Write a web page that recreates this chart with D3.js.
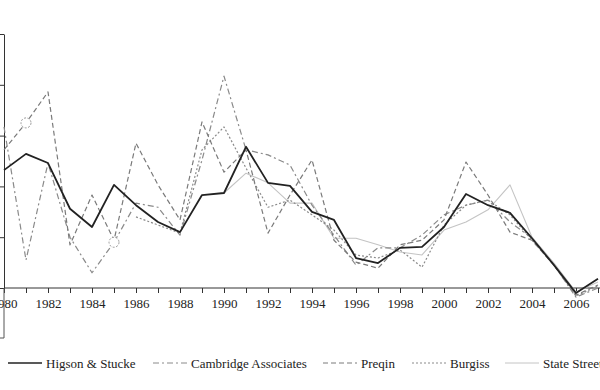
<!DOCTYPE html>
<html>
<head>
<meta charset="utf-8">
<script src="https://d3js.org/d3.v7.min.js"></script>
<style>
  body { margin: 0; background: #fff; }
  text { font-family: "Liberation Serif", "Times New Roman", serif; }
</style>
</head>
<body>
<script>
// vintage years and IRR-like values (%)
const years = d3.range(1980, 2008);

const higsonStucke = [23.2, 26.4, 24.6, 15.6, 12.0, 20.3, 16.3, 13.0, 11.0, 18.3, 18.7, 27.8, 20.7, 20.1,
  15.0, 13.4, 5.9, 4.9, 7.9, 8.1, 12.0, 18.5, 16.3, 14.8, 9.8, 4.5, -1.0, 1.8];
const cambridge = [31.7, 5.5, 24.6, 10.0, 3.0, 9.0, 16.7, 15.9, 10.4, 25.2, 41.7, 27.2, 26.2, 24.2,
  16.3, 10.4, 4.5, 7.9, 7.9, 10.4, 14.4, 16.3, 17.3, 13.0, 9.8, 4.5, -1.8, 0.0];
const preqin = [27.2, 32.5, 38.6, 8.5, 18.3, 9.4, 28.5, 20.3, 13.4, 32.7, 22.8, 27.2, 10.8, 18.3,
  25.2, 9.4, 5.1, 3.9, 8.5, 9.4, 13.4, 24.8, 18.3, 11.0, 9.4, 4.5, -1.4, 0.6];
// Burgiss starts in 1986
const burgiss = [null, null, null, null, null, null, 14.0, 12.4, 10.8, 27.2, 31.7, 23.6, 15.9, 17.3,
  14.4, 11.4, 6.5, 5.9, 7.5, 4.1, 12.4, 16.3, 17.3, 14.4, 9.4, 4.5, -1.6, 0.4];
// State Street starts in 1990
const stateStreet = [null, null, null, null, null, null, null, null, null, null, 18.7, 22.6, 20.7, 16.7,
  16.7, 9.8, 9.8, 8.5, 7.1, 6.5, 11.4, 13.0, 15.4, 20.3, 10.0, 4.9, -0.8, 1.2];

const seriesNames = ["Higson & Stucke", "Cambridge Associates", "Preqin", "Burgiss", "State Street"];
const seriesValues = [higsonStucke, cambridge, preqin, burgiss, stateStreet];
const yTicks = [0, 10, 20, 30, 40, 50];

// the odd little circles sitting on two of the dashed lines
const circleMarks = [{ s: 2, year: 1981 }, { s: 1, year: 1985 }];

const styles = [
  { color: "#222", width: 1.8, dash: null },
  { color: "#8a8a8a", width: 1.2, dash: "6,3,2,3" },
  { color: "#7a7a7a", width: 1.2, dash: "5,3" },
  { color: "#8a8a8a", width: 1.2, dash: "2,2" },
  { color: "#c4c4c4", width: 1.1, dash: null }
];

const W = 600, H = 390;
const svg = d3.select("body").append("svg")
  .attr("width", W)
  .attr("height", H);

const x = d3.scaleLinear().domain([1980, 2007]).range([4, 598]);
const y = d3.scaleLinear().domain([0, 50]).range([288, 34]);

// x axis: a tick every year, a label every other year
svg.append("g")
  .attr("transform", "translate(0," + y(0) + ")")
  .call(d3.axisBottom(x)
    .tickValues(years)
    .tickSize(5)
    .tickSizeOuter(0)
    .tickFormat(d => d % 2 === 0 ? String(d) : ""))
  .call(g => g.select(".domain").attr("d", "M" + x(1980) + ",0H" + W))
  .call(g => g.selectAll("line, path").attr("stroke", "#333"))
  .call(g => g.selectAll("text").attr("font-size", 13).attr("fill", "#222").attr("dy", "0.95em"));

// y axis: its labels lie outside the cropped picture, so only the ticks are drawn
svg.append("g")
  .attr("transform", "translate(" + x(1980) + ",0)")
  .call(d3.axisLeft(y).tickValues(yTicks).tickSize(4).tickSizeOuter(0).tickFormat(""))
  .call(g => g.selectAll("line, path").attr("stroke", "#333"));

// frame continues below the axis
svg.append("path")
  .attr("d", "M" + x(1980) + "," + y(0) + "V338H0")
  .attr("fill", "none")
  .attr("stroke", "#555");

const line = d3.line()
  .defined(d => d[1] != null)
  .x(d => x(d[0]))
  .y(d => y(d[1]));

// draw light ones first, black on top
[4, 3, 1, 2, 0].forEach(i => {
  svg.append("path")
    .datum(years.map((yr, k) => [yr, seriesValues[i][k]]))
    .attr("fill", "none")
    .attr("stroke", styles[i].color)
    .attr("stroke-width", styles[i].width)
    .attr("stroke-dasharray", styles[i].dash)
    .attr("stroke-linejoin", "round")
    .attr("d", line);
});

svg.selectAll("circle.mark")
  .data(circleMarks)
  .join("circle")
  .attr("class", "mark")
  .attr("cx", d => x(d.year))
  .attr("cy", d => y(seriesValues[d.s][years.indexOf(d.year)]))
  .attr("r", 5)
  .attr("fill", "#fff")
  .attr("stroke", "#999")
  .attr("stroke-width", 1)
  .attr("stroke-dasharray", "2,1.5");

// legend
const legendX = [8, 153, 323, 412, 505];
const legend = svg.append("g").attr("transform", "translate(0,363)");
seriesNames.forEach((name, i) => {
  legend.append("line")
    .attr("x1", legendX[i]).attr("x2", legendX[i] + 34)
    .attr("y1", 0).attr("y2", 0)
    .attr("stroke", styles[i].color)
    .attr("stroke-width", i === 0 ? 1.4 : 1)
    .attr("stroke-dasharray", styles[i].dash);
  legend.append("text")
    .attr("x", legendX[i] + 38)
    .attr("y", 4.5)
    .attr("font-size", 13)
    .attr("fill", "#222")
    .text(name);
});
</script>
</body>
</html>
